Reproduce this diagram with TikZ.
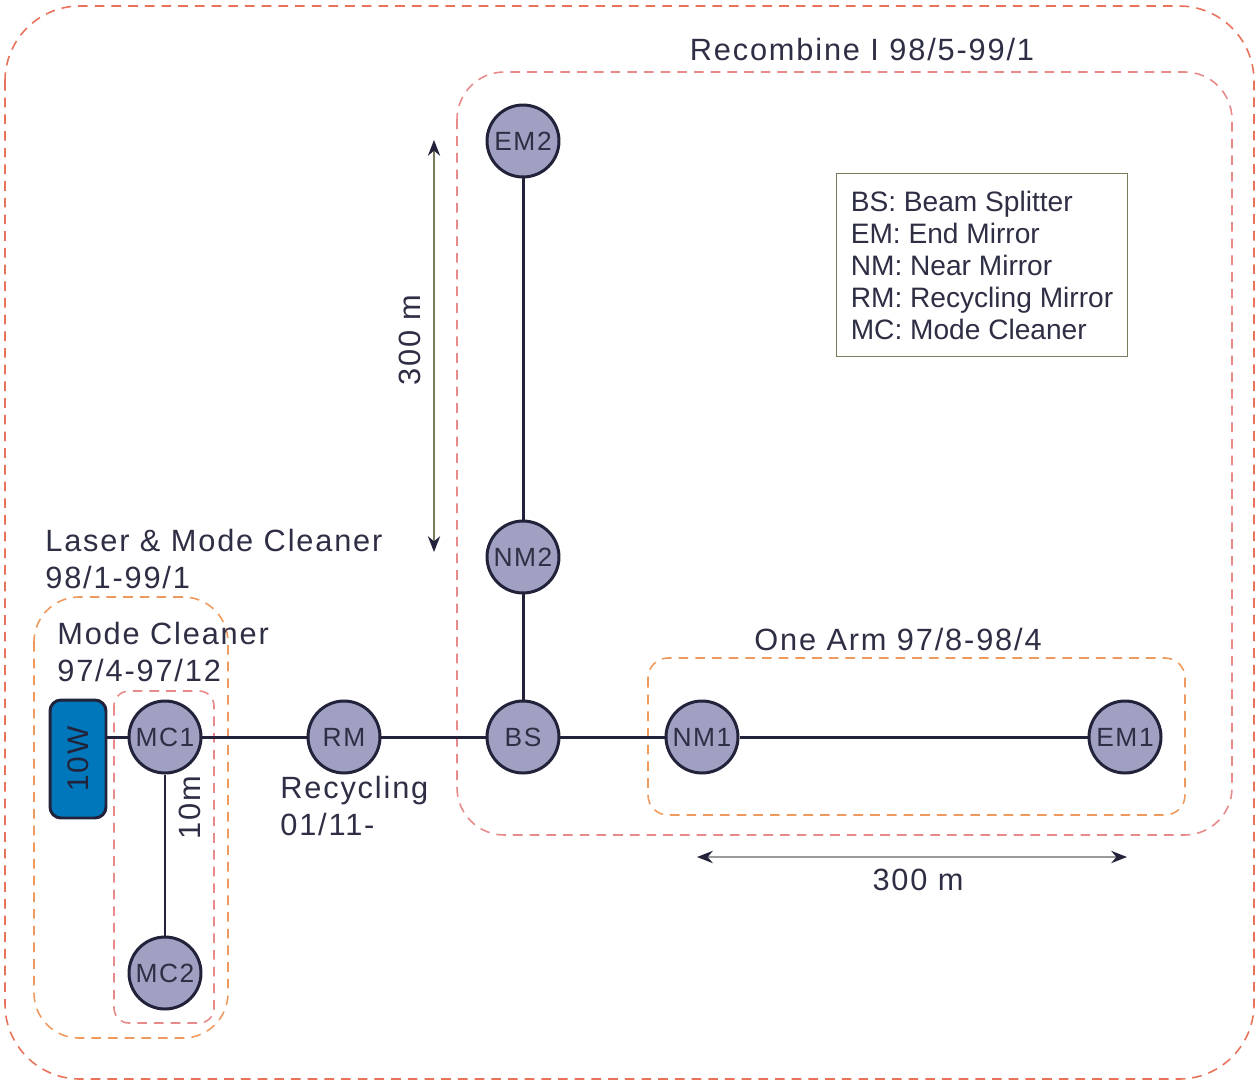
\documentclass[tikz,border=0pt]{standalone}
\usepackage{fontspec}
\setmainfont{Liberation Sans}
\newfontfamily\spacedfont{Liberation Sans}[LetterSpace=6]
\usepackage{tikz}
\usetikzlibrary{arrows.meta, positioning}
\usepackage{xcolor}
\definecolor{IfoNavy}{HTML}{22223A}
\definecolor{IfoText}{HTML}{2E2E44}
\definecolor{IfoLavender}{HTML}{A0A0C2}
\definecolor{IfoBlue}{HTML}{0077BB}
\definecolor{IfoRed}{HTML}{E8735A}
\definecolor{IfoPink}{HTML}{E88A8A}
\definecolor{IfoOrange}{HTML}{EE9A5E}
\definecolor{IfoOlive}{HTML}{7A7A5C}
\definecolor{IfoGrey}{HTML}{9A9A9A}
\tikzset{
    % Optics
    mirror/.style={
        circle,
        draw=IfoNavy,
        fill=IfoLavender,
        line width=1.7pt,
        minimum size=1.44cm,
        inner sep=0pt,
        text=IfoText,
        font=\spacedfont\fontsize{15}{17}\selectfont
    },
    laserbox/.style={
        rectangle,
        rounded corners=0.22cm,
        draw=IfoNavy,
        fill=IfoBlue,
        line width=1.7pt,
        minimum width=1.12cm,
        minimum height=2.36cm,
        text=IfoNavy,
        font=\spacedfont\fontsize{17}{20}\selectfont
    },
    legendbox/.style={
        rectangle,
        draw=IfoOlive,
        fill=white,
        line width=0.8pt,
        minimum width=5.82cm,
        minimum height=3.66cm,
        align=left,
        text=IfoText,
        font=\fontsize{16}{18.2}\selectfont
    },
    % Text
    caption/.style={
        text=IfoText,
        align=left,
        inner sep=0pt,
        font=\spacedfont\fontsize{17.5}{21}\selectfont
    },
    % Frames and lines
    groupbox/.style={
        dashed,
        dash pattern=on 5.5pt off 4pt,
        line width=0.9pt
    },
    beam/.style={
        line width=1.7pt,
        draw=IfoNavy
    },
    dimarrow/.style={
        {Stealth[length=9pt,width=7pt,color=IfoNavy]}-{Stealth[length=9pt,width=7pt,color=IfoNavy]},
        line width=1pt
    }
}

\begin{document}
\begin{tikzpicture}[x=0.02cm, y=-0.02cm]
    \useasboundingbox (0,0) rectangle (1256,1082);

    % Stage frames
    \draw[groupbox, IfoRed, rounded corners=1.5cm] (5,6) rectangle (1254,1079);
    \draw[groupbox, IfoPink, rounded corners=0.95cm] (457,72) rectangle (1232,835);
    \draw[groupbox, IfoOrange, rounded corners=0.4cm] (648,658) rectangle (1185,815);
    \draw[groupbox, IfoOrange, rounded corners=0.9cm] (34,597) rectangle (228,1038);
    \draw[groupbox, IfoPink, rounded corners=0.3cm] (114,691) rectangle (214,1023);

    % Stage labels
    \node[caption, anchor=base] (recomb) at (862,60) {Recombine I 98/5-99/1};
    \node[caption, anchor=base] (onearm) at (898,650) {One Arm 97/8-98/4};
    \node[caption, anchor=base west] (lasermc) at (45,588) {Laser \& Mode Cleaner\\98/1-99/1};
    \node[caption, anchor=base west] (mclean) at (57,681) {Mode Cleaner\\97/4-97/12};
    \node[caption, anchor=base west] (recyc) at (280,835) {Recycling\\01/11-};

    % Optics
    \node[laserbox] (laser) at (78,759) {\rotatebox{90}{10W}};
    \node[mirror] (MC1) at (165,737) {MC1};
    \node[mirror] (MC2) at (165,973) {MC2};
    \node[mirror] (RM) at (344,737) {RM};
    \node[mirror] (BS) at (523,737) {BS};
    \node[mirror] (NM1) at (702,737) {NM1};
    \node[mirror] (EM1) at (1125,737) {EM1};
    \node[mirror] (NM2) at (523,557) {NM2};
    \node[mirror] (EM2) at (523,141) {EM2};

    % Beam path
    \draw[beam] (MC1 -| laser.east) -- (MC1);
    \draw[beam] (MC1) -- (RM);
    \draw[beam] (RM) -- (BS);
    \draw[beam] (BS) -- (NM1);
    \draw[beam] (NM1) -- (EM1);
    \draw[beam] (BS) -- (NM2);
    \draw[beam] (NM2) -- (EM2);
    \draw[beam] (MC1) -- (MC2);
    \node[caption, rotate=90] (tenm) at (190,808) {10m};

    % Arm lengths
    \coordinate (armtop) at (434,140);
    \coordinate (armbot) at (434,552);
    \draw[dimarrow, IfoOlive] (armtop) -- (armbot);
    \node[caption, rotate=90] (armv) at (410,340) {300 m};
    \coordinate (armleft) at (697,857);
    \coordinate (armright) at (1127,857);
    \draw[dimarrow, IfoGrey] (armleft) -- (armright);
    \node[caption] (armh) at (918,880) {300 m};

    % Legend
    \node[legendbox] (legend) at (982,265) {%
        BS: Beam Splitter\\EM: End Mirror\\NM: Near Mirror\\RM: Recycling Mirror\\MC: Mode Cleaner};
\end{tikzpicture}
\end{document}
